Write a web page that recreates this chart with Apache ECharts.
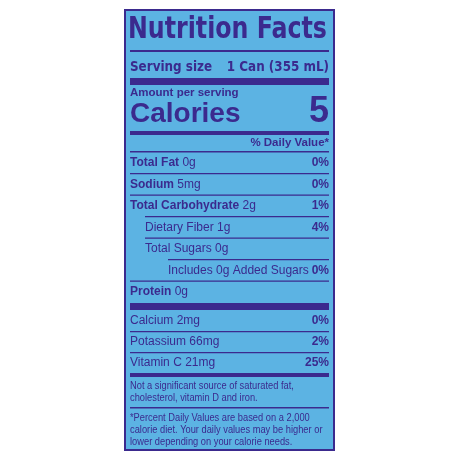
<!DOCTYPE html><html><head><meta charset="utf-8">
<script src="https://cdn.jsdelivr.net/npm/echarts@6/dist/echarts.min.js"></script>
<style>html,body{margin:0;background:#fff}#c{width:460px;height:460px}</style></head><body><div id="c"></div>
<script>
const title = "Nutrition Facts";
const servingLabel = "Serving size";
const servingValue = "1 Can (355 mL)";
const calories = "5";
const nutrientNames = ["Total Fat","Sodium","Total Carbohydrate","Dietary Fiber","Total Sugars","Includes 0g Added Sugars","Protein"];
const nutrientAmounts = ["0g","5mg","2g","1g","0g","","0g"];
const nutrientPct = ["0%","0%","1%","4%","","0%",""];
const nutrientBold = [true,true,true,false,false,false,true];
const nutrientIndent = [0,0,0,1,1,2,0];
const vitaminNames = ["Calcium 2mg","Potassium 66mg","Vitamin C 21mg"];
const vitaminPct = ["0%","2%","25%"];
const note1 = ["Not a significant source of saturated fat,","cholesterol, vitamin D and iron."];
const note2 = ["*Percent Daily Values are based on a 2,000","calorie diet. Your daily values may be higher or","lower depending on your calorie needs."];

const C='#3b2a8e', L=125, R=334, TL=130, TR=329;
const F='Liberation Sans', FC='DejaVu Sans Condensed';
const g=[];
g.push({type:'rect',shape:{x:L,y:10,width:R-L,height:440},style:{fill:'#5cb3e3',stroke:C,lineWidth:2}});
function txt(x,y,s,size,w,align,font,sx){g.push({type:'text',x,y,scaleX:sx||1,style:{text:s,fill:C,font:(w||'normal')+' '+size+'px "'+(font||F)+'"',textAlign:align||'left',textVerticalAlign:'middle'}});}
function bar(x1,y,h,x2){g.push({type:'rect',shape:{x:x1||TL,y,width:(x2||TR)-(x1||TL),height:h},style:{fill:C}});}
txt(TL-2,30,title,31,'bold',null,FC,0.85);
bar(TL,50,2);
txt(TL,67,servingLabel,14,'bold',null,FC,0.95);
txt(TR,67,servingValue,14,'bold','right',FC,0.95);
bar(TL,78,7);
txt(TL,93,'Amount per serving',11.5,'bold');
txt(TL,114,'Calories',28,'bold');
txt(TR,112,calories,36,'bold','right');
bar(TL,131,4);
txt(TR,143,'% Daily Value*',11.5,'bold','right');
bar(TL,151,1.5);
const ind=[0,15,38];
nutrientNames.forEach((n,i)=>{
  const y=163+i*21.5, x=TL+ind[nutrientIndent[i]];
  g.push({type:'text',x,y,style:{text:'{b|'+n+'}'+(nutrientAmounts[i]?' {n|'+nutrientAmounts[i]+'}':''),fill:C,textVerticalAlign:'middle',
    rich:{b:{fontFamily:F,fontSize:12,fontWeight:nutrientBold[i]?'bold':'normal',fill:C},n:{fontFamily:F,fontSize:12,fill:C}}}});
  if(nutrientPct[i]) txt(TR,y,nutrientPct[i],12,'bold','right');
  if(i<nutrientNames.length-1){const nx=TL+ind[nutrientIndent[i+1]]; bar(nutrientIndent[i+1]?nx:TL,y+10,1.2);}
});
bar(TL,303,7);
vitaminNames.forEach((n,i)=>{
  const y=321+i*21;
  txt(TL,y,n,12,'normal');
  txt(TR,y,vitaminPct[i],12,'bold','right');
  if(i<2) bar(TL,y+10,1.2);
});
bar(TL,373,4);
note1.forEach((s,i)=>txt(TL,386+i*12,s,10,'normal',null,F,0.93));
bar(TL,407,1.5);
note2.forEach((s,i)=>txt(TL,418+i*12,s,10,'normal',null,F,0.93));
const ch=echarts.init(document.getElementById('c'));
ch.setOption({animation:false,graphic:{elements:g}});
</script></body></html>
